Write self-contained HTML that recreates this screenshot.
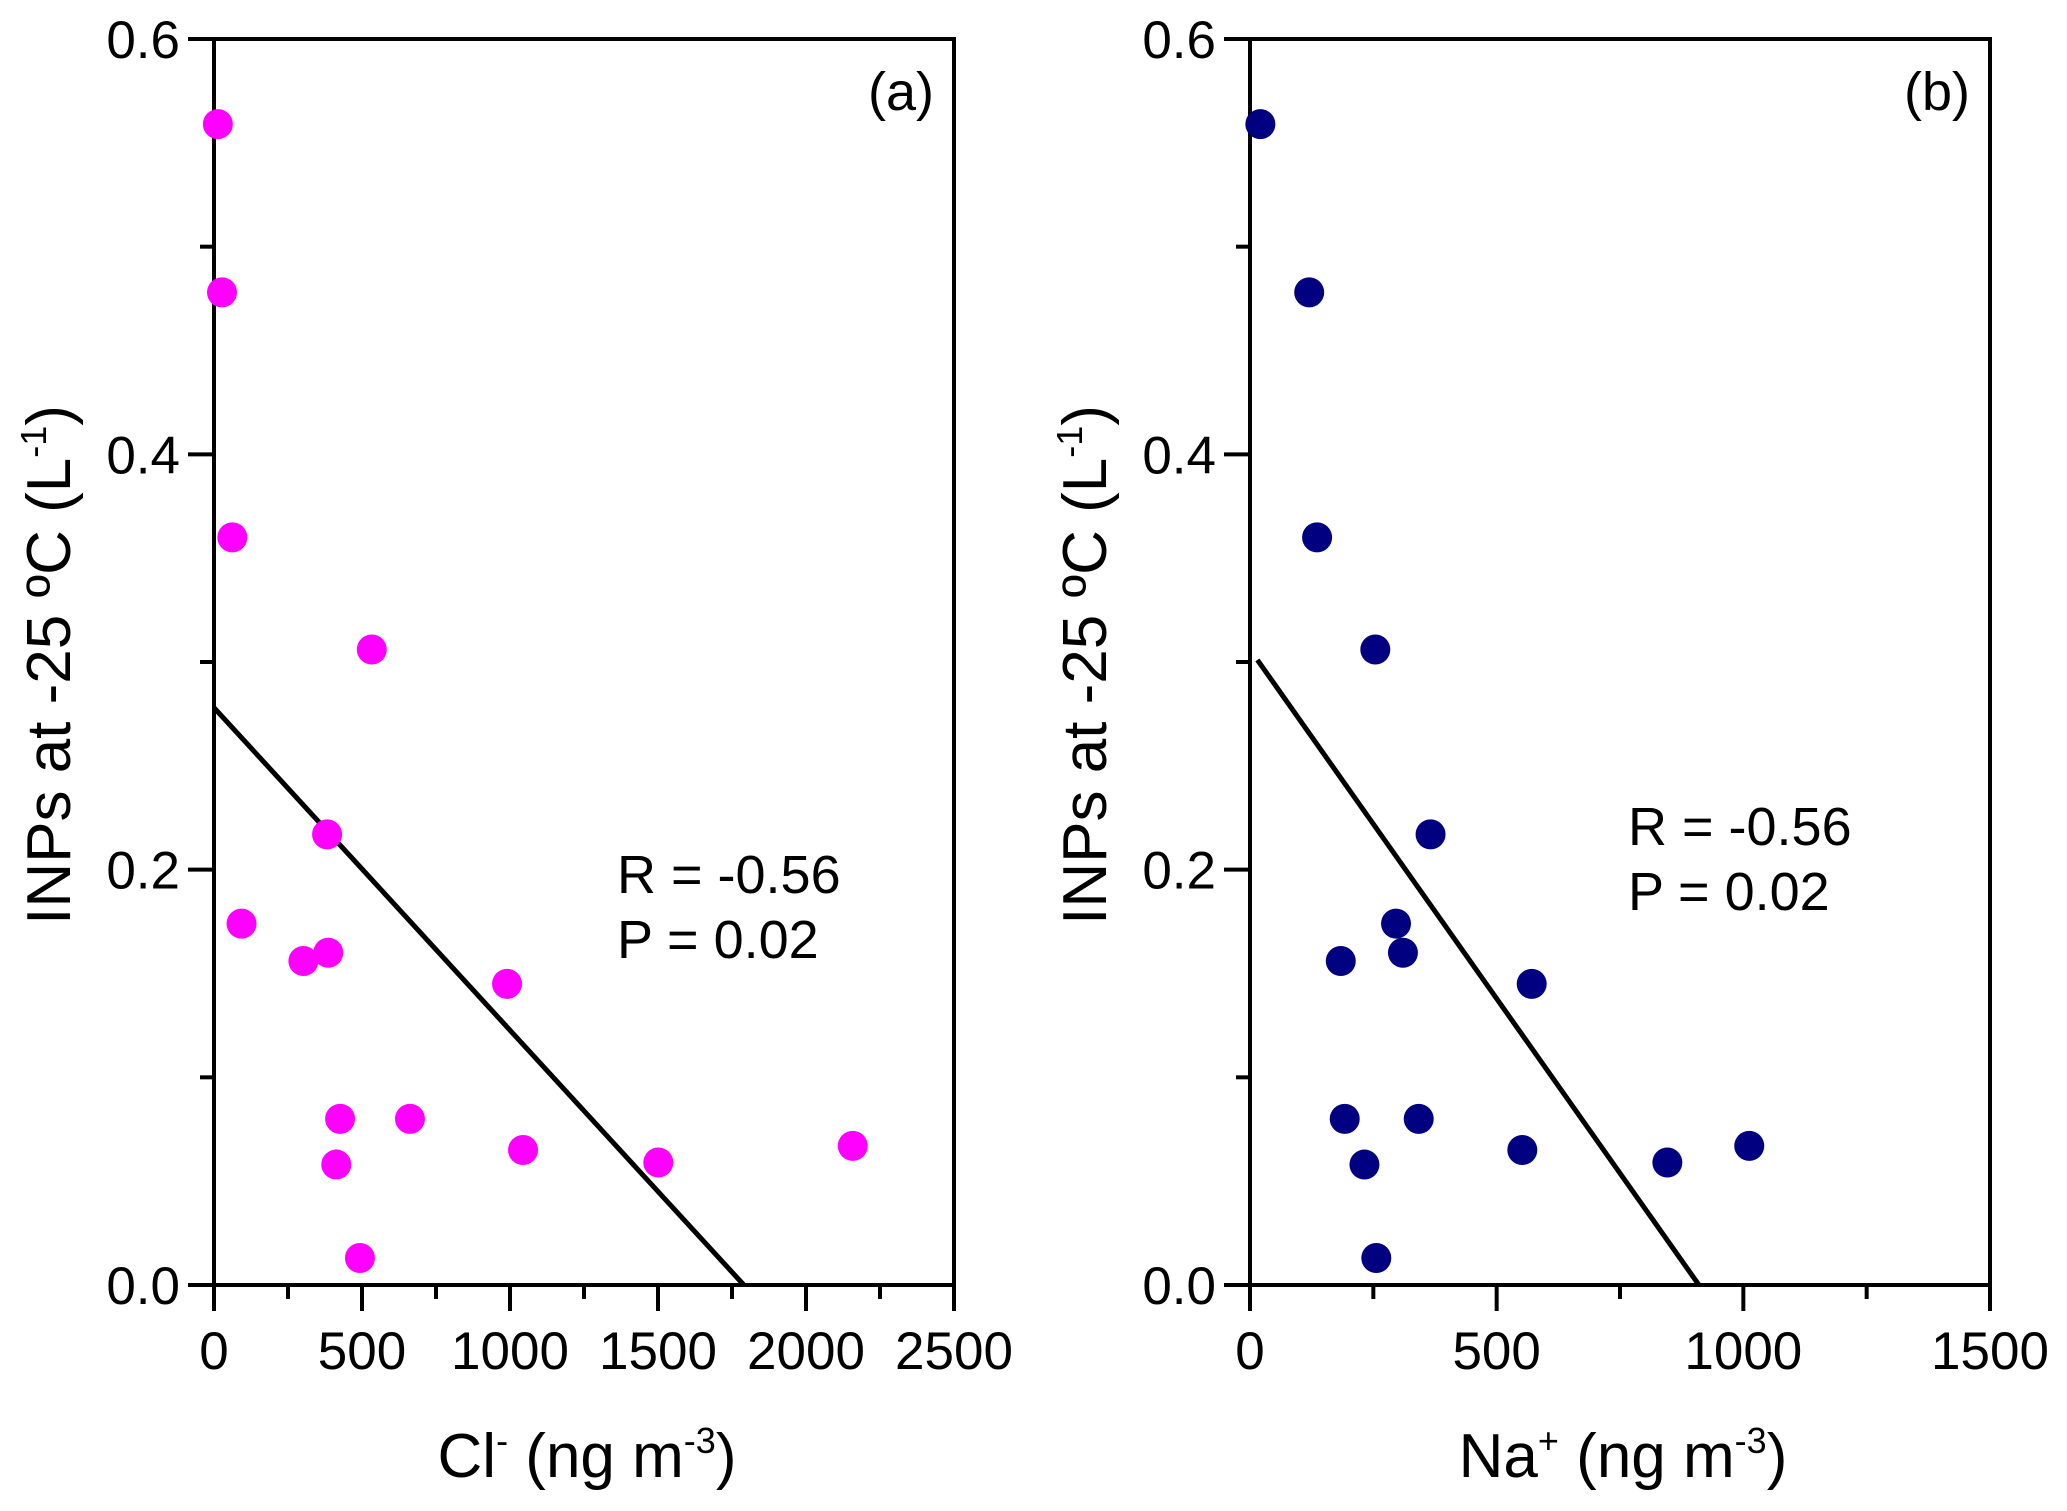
<!DOCTYPE html>
<html><head><meta charset="utf-8"><style>
html,body{margin:0;padding:0;background:#fff}
svg{display:block}
text{font-family:"Liberation Sans",Arial,sans-serif;fill:#000}
</style></head><body>
<svg id="chart" width="2067" height="1511" viewBox="0 0 2067 1511" xmlns="http://www.w3.org/2000/svg"></svg>
<script>
const clValues = [13, 27, 62, 533, 382, 93, 302, 386, 990, 426, 662, 413, 1044, 1501, 2158, 493];
const naValues = [21, 120, 136, 254, 366, 296, 184, 310, 571, 192, 342, 232, 552, 846, 1012, 256];
const inpValues = [0.559, 0.478, 0.360, 0.306, 0.217, 0.174, 0.156, 0.160, 0.145, 0.080, 0.080, 0.058, 0.065, 0.059, 0.067, 0.013];
const yTicks = [0.0, 0.2, 0.4, 0.6];
const yTickLabels = ["0.0", "0.2", "0.4", "0.6"];
const clTicks = [0, 500, 1000, 1500, 2000, 2500];
const naTicks = [0, 500, 1000, 1500];
const clFit = [[0, 0.278], [1790, 0]];
const naFit = [[15, 0.301], [910, 0]];
const statLines = ["R = -0.56", "P = 0.02"];

const NS = "http://www.w3.org/2000/svg";
const svg = document.getElementById('chart');
function mk(tag, attrs, parent) {
  const e = document.createElementNS(NS, tag);
  for (const k in attrs) e.setAttribute(k, attrs[k]);
  (parent || svg).appendChild(e);
  return e;
}
const TOP = 39, BOT = 1285, W = 740;
function yScale(v) { return BOT - v / 0.6 * (BOT - TOP); }

function panel(opts) {
  const L = opts.left, R = L + W;
  const xS = v => L + v / opts.xmax * W;
  const g = mk('g', {});
  
  
  const fr = mk('rect', {x: L, y: TOP, width: W, height: BOT - TOP, fill: 'none', stroke: '#000', 'stroke-width': 4}, g);
  
  
  for (let i = 0; i <= 6; i++) {
    const v = i * 0.1, y = yScale(v), major = i % 2 === 0;
    const t = mk('line', {x1: L - (major ? 26 : 14), x2: L, y1: y, y2: y, stroke: '#000', 'stroke-width': 4}, g);
    
    
  }
  yTicks.forEach((v, i) => {
    const t = mk('text', {x: L - 34, y: yScale(v) + 19, 'font-size': 53, 'text-anchor': 'end'}, g);
    t.textContent = yTickLabels[i];
    
    
  });
  const step = opts.xTicks[1] - opts.xTicks[0];
  for (let v = 0; v <= opts.xmax + 1e-9; v += step / 2) {
    const major = Math.abs(v / step - Math.round(v / step)) < 1e-6;
    const x = xS(v);
    const t = mk('line', {x1: x, x2: x, y1: BOT, y2: BOT + (major ? 26 : 14), stroke: '#000', 'stroke-width': 4}, g);
    
    
  }
  opts.xTicks.forEach(v => {
    const t = mk('text', {x: xS(v), y: 1369, 'font-size': 53, 'text-anchor': 'middle'}, g);
    t.textContent = String(v);
    
    
  });
  const fl = mk('line', {x1: xS(opts.fit[0][0]), y1: yScale(opts.fit[0][1]), x2: xS(opts.fit[1][0]), y2: yScale(opts.fit[1][1]), stroke: '#000', 'stroke-width': 5}, g);
  
  
  opts.xs.forEach((xv, i) => {
    const c = mk('circle', {cx: xS(xv), cy: yScale(inpValues[i]), r: 15, fill: opts.color}, g);
    
    
  });
  const pl = mk('text', {x: R - 20, y: TOP + 71, 'font-size': 54, 'text-anchor': 'end'}, g);
  pl.textContent = opts.label;
  
  
  statLines.forEach((s, i) => {
    const t = mk('text', {x: opts.statX, y: opts.statY + i * 65, 'font-size': 54}, g);
    t.textContent = s;
    
    
  });
  const yt = mk('text', {x: 0, y: 0, 'font-size': 62, 'text-anchor': 'middle', transform: `translate(${L - 144},665) rotate(-90)`}, g);
  yt.innerHTML = 'INPs at -25 ºC (L<tspan font-size="36" dy="-24">-1</tspan><tspan dy="24">)</tspan>';
  
  
  const xt = mk('text', {x: opts.xTitleX, y: 1477, 'font-size': 62, 'text-anchor': 'middle'}, g);
  xt.innerHTML = opts.xTitle;
  
  
}
panel({name: 'panel-a', left: 214, xmax: 2500, xTicks: clTicks, xs: clValues, fit: clFit, color: '#ff00ff', label: '(a)',
  statX: 617, statY: 893, xTitleX: 587,
  xTitle: 'Cl<tspan font-size="36" dy="-24">-</tspan><tspan dy="24"> (ng m</tspan><tspan font-size="36" dy="-24">-3</tspan><tspan dy="24">)</tspan>'});
panel({name: 'panel-b', left: 1250, xmax: 1500, xTicks: naTicks, xs: naValues, fit: naFit, color: '#000080', label: '(b)',
  statX: 1628, statY: 845, xTitleX: 1623,
  xTitle: 'Na<tspan font-size="36" dy="-24">+</tspan><tspan dy="24"> (ng m</tspan><tspan font-size="36" dy="-24">-3</tspan><tspan dy="24">)</tspan>'});
</script>
</body></html>
